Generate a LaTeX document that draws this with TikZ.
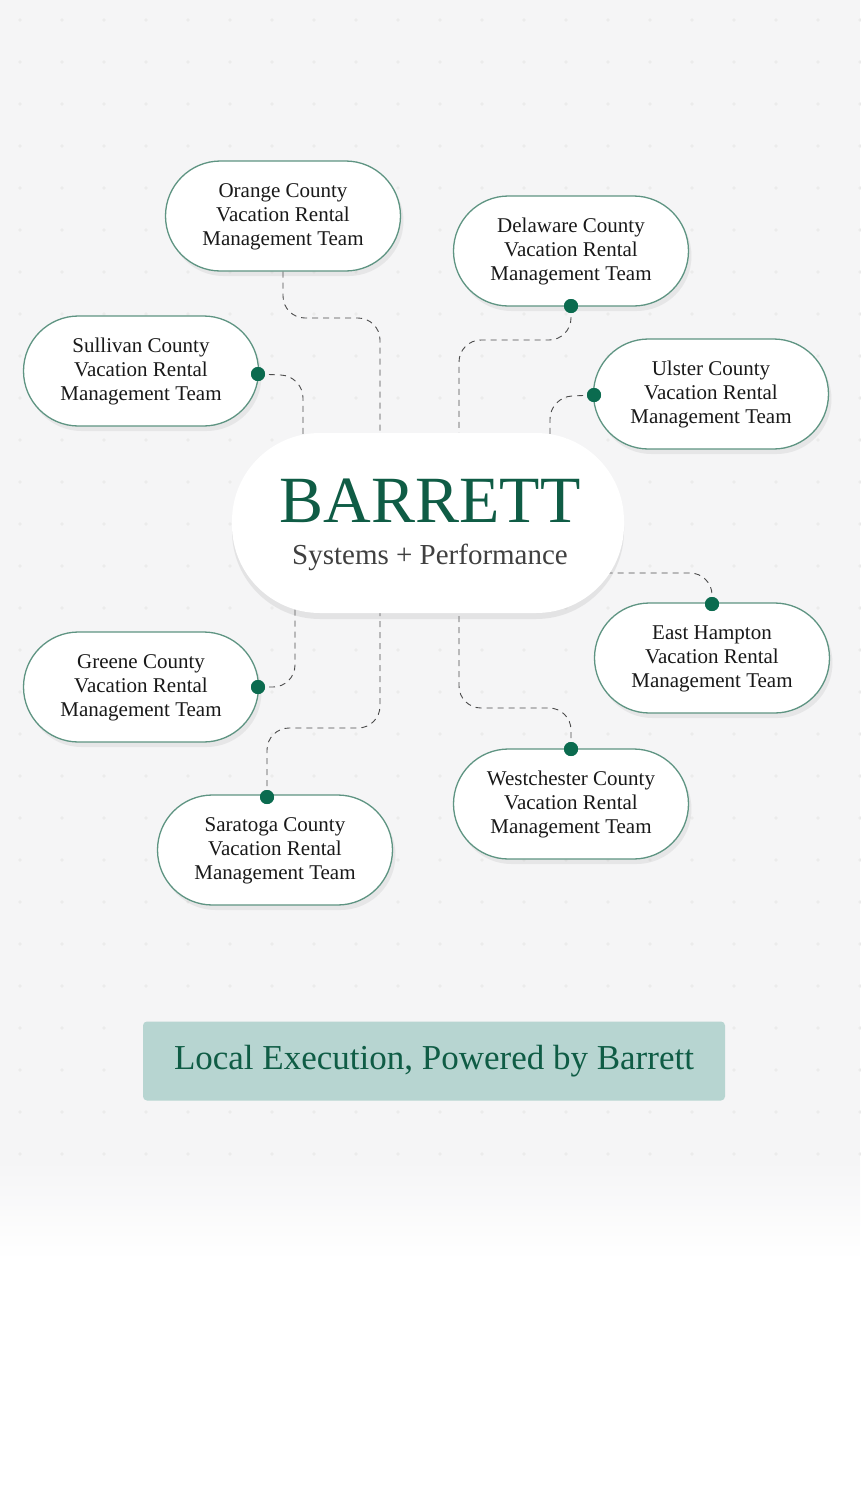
\documentclass[tikz,border=0pt]{standalone}
\usepackage{fontspec}
\setmainfont{Liberation Serif}
\usetikzlibrary{shadows,calc}
\definecolor{bord}{HTML}{5E9482}
\definecolor{dotg}{HTML}{0B6B4F}
\definecolor{ttl}{HTML}{0F5C45}
\definecolor{bann}{HTML}{B7D5D1}
\definecolor{bgc}{HTML}{F5F5F6}
\tikzset{
  team/.style={draw=bord, line width=1.3pt, fill=white, rounded corners=55pt, minimum width=235pt, minimum height=110pt, align=center, font=\fontsize{21pt}{24pt}\selectfont, text=black!90, text depth=3pt, drop shadow={opacity=0.12, shadow xshift=3pt, shadow yshift=-5pt}},
  hub/.style={fill=white, rounded corners=88pt, minimum width=392pt, minimum height=180pt, align=center, drop shadow={opacity=0.15, shadow xshift=0pt, shadow yshift=-6pt}},
  conn/.style={draw=black!70, dashed, dash pattern=on 6pt off 5pt, line width=0.9pt, rounded corners=22pt},
  pin/.style={circle, fill=dotg, inner sep=0pt, minimum size=14pt}
}
\begin{document}
\begin{tikzpicture}[x=1pt,y=-1pt]
\useasboundingbox (0,0) rectangle (860,1510);
\fill[bgc] (0,0) rectangle (860,1160);
\shade[top color=bgc, bottom color=white] (0,1160) rectangle (860,1260);
\foreach \i in {0,...,20} \foreach \j in {0,...,27} {
  \fill[black!8] (\i*42+20,\j*42+20) circle (1.8pt);
}
\coordinate (c1) at (380,470);
\coordinate (c2) at (303,470);
\coordinate (c3) at (459,470);
\coordinate (c4) at (550,470);
\coordinate (c5) at (590,573);
\coordinate (c6) at (295,580);
\coordinate (c7) at (380,580);
\coordinate (c8) at (459,580);
\node[team] (orange) at (283,216) {Orange County\\Vacation Rental\\Management Team};
\node[team] (delaware) at (571,251) {Delaware County\\Vacation Rental\\Management Team};
\node[team] (sullivan) at (141,371) {Sullivan County\\Vacation Rental\\Management Team};
\node[team] (ulster) at (711,394) {Ulster County\\Vacation Rental\\Management Team};
\node[team] (east) at (712,658) {East Hampton\\Vacation Rental\\Management Team};
\node[team] (greene) at (141,687) {Greene County\\Vacation Rental\\Management Team};
\node[team] (west) at (571,804) {Westchester County\\Vacation Rental\\Management Team};
\node[team] (sara) at (275,850) {Saratoga County\\Vacation Rental\\Management Team};
\node[pin] (p2) at (258,374) {};
\node[pin] (p3) at (571,306) {};
\node[pin] (p4) at (594,395) {};
\node[pin] (p5) at (712,604) {};
\node[pin] (p6) at (258,687) {};
\node[pin] (p7) at (267,797) {};
\node[pin] (p8) at (571,749) {};
\draw[conn] (orange.south) -- (283,318) -- (380,318) -- (c1);
\draw[conn] (p2.center) -- (303,376) -- (c2);
\draw[conn] (p3.center) -- (571,340) -- (459,340) -- (c3);
\draw[conn] (p4.center) -- (550,397) -- (c4);
\draw[conn] (p5.center) -- (712,573) -- (c5);
\draw[conn] (p6.center) -- (295,687) -- (c6);
\draw[conn] (p7.center) -- (267,728) -- (380,728) -- (c7);
\draw[conn] (p8.center) -- (571,708) -- (459,708) -- (c8);
\foreach \p in {p2,p3,p4,p5,p6,p7,p8} \fill[dotg] (\p) circle (7pt);
\node[hub] (hub) at (428,523) {};
\node[text=ttl, inner sep=0pt, font=\fontsize{66pt}{66pt}\selectfont] (brand) at (430,501) {BARRETT};
\node[text=black!75, inner sep=0pt, font=\fontsize{29pt}{29pt}\selectfont] (tag) at (430,557) {Systems + Performance};
\node[fill=bann, rounded corners=4pt, minimum width=582pt, minimum height=79pt, text=ttl, font=\fontsize{35pt}{35pt}\selectfont] (banner) at (434,1061) {Local Execution, Powered by Barrett};
\end{tikzpicture}
\end{document}
